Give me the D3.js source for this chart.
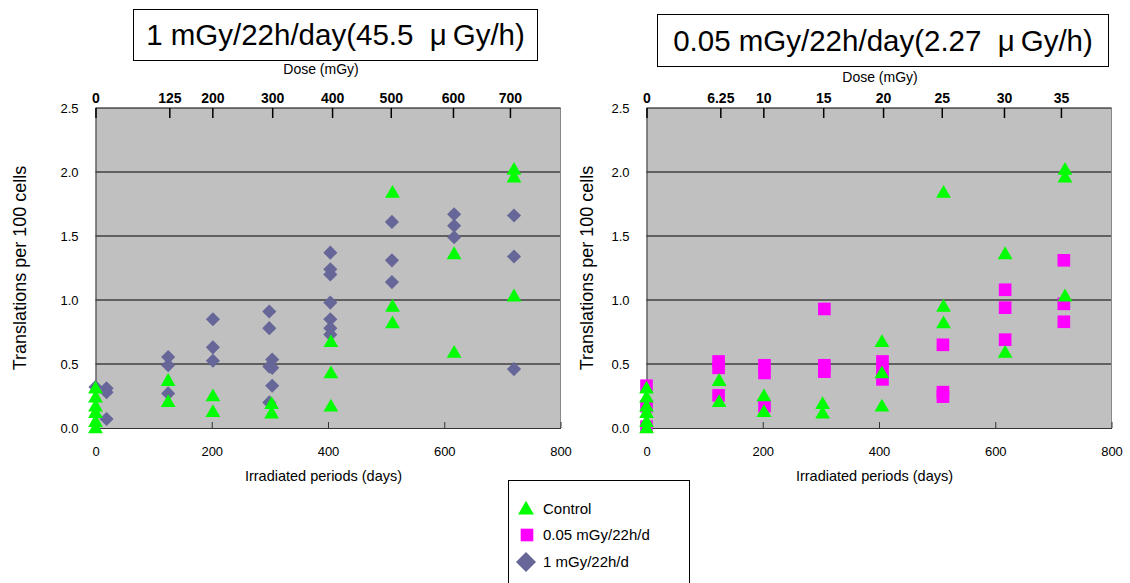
<!DOCTYPE html>
<html>
<head>
<meta charset="utf-8">
<script src="https://cdn.jsdelivr.net/npm/d3@7"></script>
<style>
  body { margin: 0; background: #fff; }
  svg { display: block; }
  text { font-family: "Liberation Sans", Arial, sans-serif; }
</style>
</head>
<body>
<svg id="drawing_region"></svg>
<script>
// control (triangles) - same points in both panels
var controlDays   = [0, 0, 0, 0, 0, 0, 125, 125, 202, 202, 303, 303, 405, 405, 405, 511, 511, 511, 617, 617, 720, 720, 720];
var controlValues = [0.31, 0.24, 0.17, 0.12, 0.05, 0.0, 0.37, 0.205, 0.25, 0.127, 0.19, 0.115, 0.674, 0.43, 0.17, 1.84, 0.95, 0.82, 1.36, 0.59, 2.02, 1.96, 1.03];

// 1 mGy/22h/d (diamonds, left panel)
var highDays   = [0, 19, 19, 19, 125, 125, 125, 202, 202, 202, 299, 299, 299, 299, 304, 304, 304, 404, 404, 404, 404, 404, 404, 404, 510, 510, 510, 617, 617, 617, 720, 720, 720];
var highValues = [0.32, 0.31, 0.28, 0.07, 0.555, 0.49, 0.27, 0.85, 0.63, 0.525, 0.91, 0.78, 0.48, 0.20, 0.535, 0.47, 0.33, 1.37, 1.24, 1.20, 0.98, 0.85, 0.78, 0.73, 1.61, 1.31, 1.14, 1.67, 1.58, 1.49, 1.66, 1.34, 0.46];

// 0.05 mGy/22h/d (squares, right panel)
var lowDays   = [0, 0, 0, 124, 124, 124, 203, 203, 203, 306, 306, 306, 406, 406, 406, 510, 510, 510, 617, 617, 617, 718, 718, 718];
var lowValues = [0.33, 0.17, 0.01, 0.52, 0.47, 0.255, 0.49, 0.43, 0.17, 0.93, 0.49, 0.44, 0.52, 0.45, 0.38, 0.65, 0.28, 0.245, 1.08, 0.94, 0.69, 1.31, 0.97, 0.83];

// axes
var dayTicks = [0, 200, 400, 600, 800];
var valueTicks = [0, 0.5, 1.0, 1.5, 2.0, 2.5];
var doseTickDays = [0, 127, 201, 304, 407, 508, 615, 713];
var doseLabelsHigh = ['0', '125', '200', '300', '400', '500', '600', '700'];
var doseLabelsLow = ['0', '6.25', '10', '15', '20', '25', '30', '35'];

var titles = ['1 mGy/22h/day(45.5\u00a0\u00a0\u03bc\u2009Gy/h)', '0.05 mGy/22h/day(2.27\u00a0\u00a0\u03bc\u2009Gy/h)'];
var legendLabels = ['Control', '0.05 mGy/22h/d', '1 mGy/22h/d'];

var width = 1130;
var height = 583;

var svg = d3.select('#drawing_region')
    .attr('width', width)
    .attr('height', height);

var GREEN = '#00ff00', MAGENTA = '#ff00ff', SLATE = '#666699';

var triangle = d3.symbol().type(d3.symbolTriangle).size(95);
var diamond = d3.symbol().type(d3.symbolSquare).size(100);  // rotated 45deg below
var square = d3.symbol().type(d3.symbolSquare).size(160);

function toPoints(days, values) {
    return days.map((d, i) => ({day: d, value: values[i]}));
}

function drawPanel(cfg) {
    const inner_width = 465;
    const inner_height = 320;

    const chart = svg.append('g')
        .attr('transform', `translate(${cfg.left}, 108)`);

    const xscale = d3.scaleLinear().domain([0, 800]).range([0, inner_width]);
    const yscale = d3.scaleLinear().domain([0, 2.5]).range([inner_height, 0]);

    // plot background
    chart.append('rect')
        .attr('width', inner_width)
        .attr('height', inner_height)
        .attr('fill', '#c0c0c0');

    // grid lines
    chart.append('g').selectAll('line').data(valueTicks.slice(1, -1)).enter()
        .append('line')
        .attr('x1', 0).attr('x2', inner_width)
        .attr('y1', d => yscale(d)).attr('y2', d => yscale(d))
        .attr('stroke', '#000').attr('stroke-width', 1);

    // frame
    chart.append('line').attr('x1', inner_width).attr('x2', inner_width).attr('y1', 0).attr('y2', inner_height)
        .attr('stroke', '#888');
    chart.append('line').attr('x1', 0).attr('x2', inner_width).attr('y1', 0).attr('y2', 0)
        .attr('stroke', '#000');

    // y axis
    const yaxis = d3.axisLeft(yscale).tickValues(valueTicks).tickFormat(d3.format('.1f'))
        .tickSize(0).tickPadding(17);
    const ygroup = chart.append('g').call(yaxis);
    ygroup.select('.domain').attr('stroke', '#333');
    ygroup.selectAll('text').attr('font-size', 13).attr('fill', '#000')
        .attr('font-family', '"Liberation Sans", Arial, sans-serif');

    // bottom axis (days)
    const xaxis = d3.axisBottom(xscale).tickValues(dayTicks).tickSizeInner(-6).tickSizeOuter(0).tickPadding(19);
    const xgroup = chart.append('g').attr('transform', `translate(0, ${inner_height})`).call(xaxis);
    xgroup.select('.domain').attr('stroke', '#333');
    xgroup.selectAll('.tick line').attr('stroke', '#333');
    xgroup.selectAll('text').attr('font-size', 13).attr('fill', '#000')
        .attr('font-family', '"Noto Sans CJK JP", sans-serif');

    // top axis (dose)
    const doseaxis = d3.axisTop(xscale).tickValues(doseTickDays)
        .tickFormat((d, i) => cfg.doseLabels[i]).tickSizeInner(-10).tickSizeOuter(0).tickPadding(5);
    const dgroup = chart.append('g').call(doseaxis);
    dgroup.select('.domain').remove();
    dgroup.selectAll('.tick line').attr('stroke', '#000').attr('stroke-width', 1.5);
    dgroup.selectAll('text').attr('font-size', 14).attr('font-weight', 'bold').attr('fill', '#000')
        .attr('font-family', '"Liberation Sans", Arial, sans-serif');

    // points: treated series first, control triangles on top
    const sym = cfg.kind === 'diamond' ? diamond : square;
    chart.append('g').selectAll('path').data(toPoints(cfg.days, cfg.values)).enter()
        .append('path')
        .attr('d', sym)
        .attr('transform', d => `translate(${xscale(d.day)}, ${yscale(d.value)})` + (cfg.kind === 'diamond' ? ' rotate(45)' : ''))
        .attr('fill', cfg.color);

    chart.append('g').selectAll('path').data(toPoints(controlDays, controlValues)).enter()
        .append('path')
        .attr('d', triangle)
        .attr('transform', d => `translate(${xscale(d.day)}, ${yscale(d.value) + 1})`)
        .attr('fill', GREEN);

    // axis titles
    svg.append('text')
        .attr('transform', `translate(${cfg.yTitleX}, 268) rotate(-90)`)
        .attr('text-anchor', 'middle')
        .attr('font-size', 18)
        .text('Translations per 100 cells');

    svg.append('text')
        .attr('x', cfg.left + 228).attr('y', 481)
        .attr('text-anchor', 'middle')
        .attr('font-size', 14.5)
        .attr('font-family', '"Noto Sans CJK JP", sans-serif')
        .text('Irradiated periods (days)');

    svg.append('text')
        .attr('x', cfg.doseX).attr('y', cfg.doseY)
        .attr('text-anchor', 'middle')
        .attr('font-size', 14)
        .text('Dose (mGy)');

    // title box
    const tb = cfg.titleBox;
    svg.append('rect')
        .attr('x', tb[0]).attr('y', tb[1]).attr('width', tb[2]).attr('height', tb[3])
        .attr('fill', '#fff').attr('stroke', '#000').attr('stroke-width', 1);
    svg.append('text')
        .attr('x', tb[0] + tb[2] / 2).attr('y', tb[1] + tb[3] / 2 + 10)
        .attr('text-anchor', 'middle')
        .attr('font-size', 29.5)
        .text(cfg.title);
}

drawPanel({
    left: 95.5, doseLabels: doseLabelsHigh, days: highDays, values: highValues,
    kind: 'diamond', color: SLATE, title: titles[0], titleBox: [133.5, 9.5, 404, 51],
    doseX: 321, doseY: 74, yTitleX: 26
});

drawPanel({
    left: 646.5, doseLabels: doseLabelsLow, days: lowDays, values: lowValues,
    kind: 'square', color: MAGENTA, title: titles[1], titleBox: [657.5, 14.5, 451, 52],
    doseX: 880, doseY: 82, yTitleX: 593
});

// legend
var legend = svg.append('g');
legend.append('rect')
    .attr('x', 508.5).attr('y', 480.5).attr('width', 181).attr('height', 110)
    .attr('fill', '#fff').attr('stroke', '#000');

var legendSymbols = [
    {sym: d3.symbol().type(d3.symbolTriangle).size(110), color: GREEN, rot: 0},
    {sym: d3.symbol().type(d3.symbolSquare).size(160), color: MAGENTA, rot: 0},
    {sym: d3.symbol().type(d3.symbolSquare).size(200), color: SLATE, rot: 45}
];
var legendY = [509, 535, 562];
var legendSymX = [526, 527, 526];

legend.selectAll('path').data(legendSymbols).enter()
    .append('path')
    .attr('d', d => d.sym())
    .attr('transform', (d, i) => `translate(${legendSymX[i]}, ${legendY[i] + (i === 0 ? 1 : 0)}) rotate(${d.rot})`)
    .attr('fill', d => d.color);

legend.selectAll('text').data(legendLabels).enter()
    .append('text')
    .attr('x', 543)
    .attr('y', (d, i) => legendY[i] + 5)
    .attr('font-size', 15)
    .text(d => d);
</script>
</body>
</html>
